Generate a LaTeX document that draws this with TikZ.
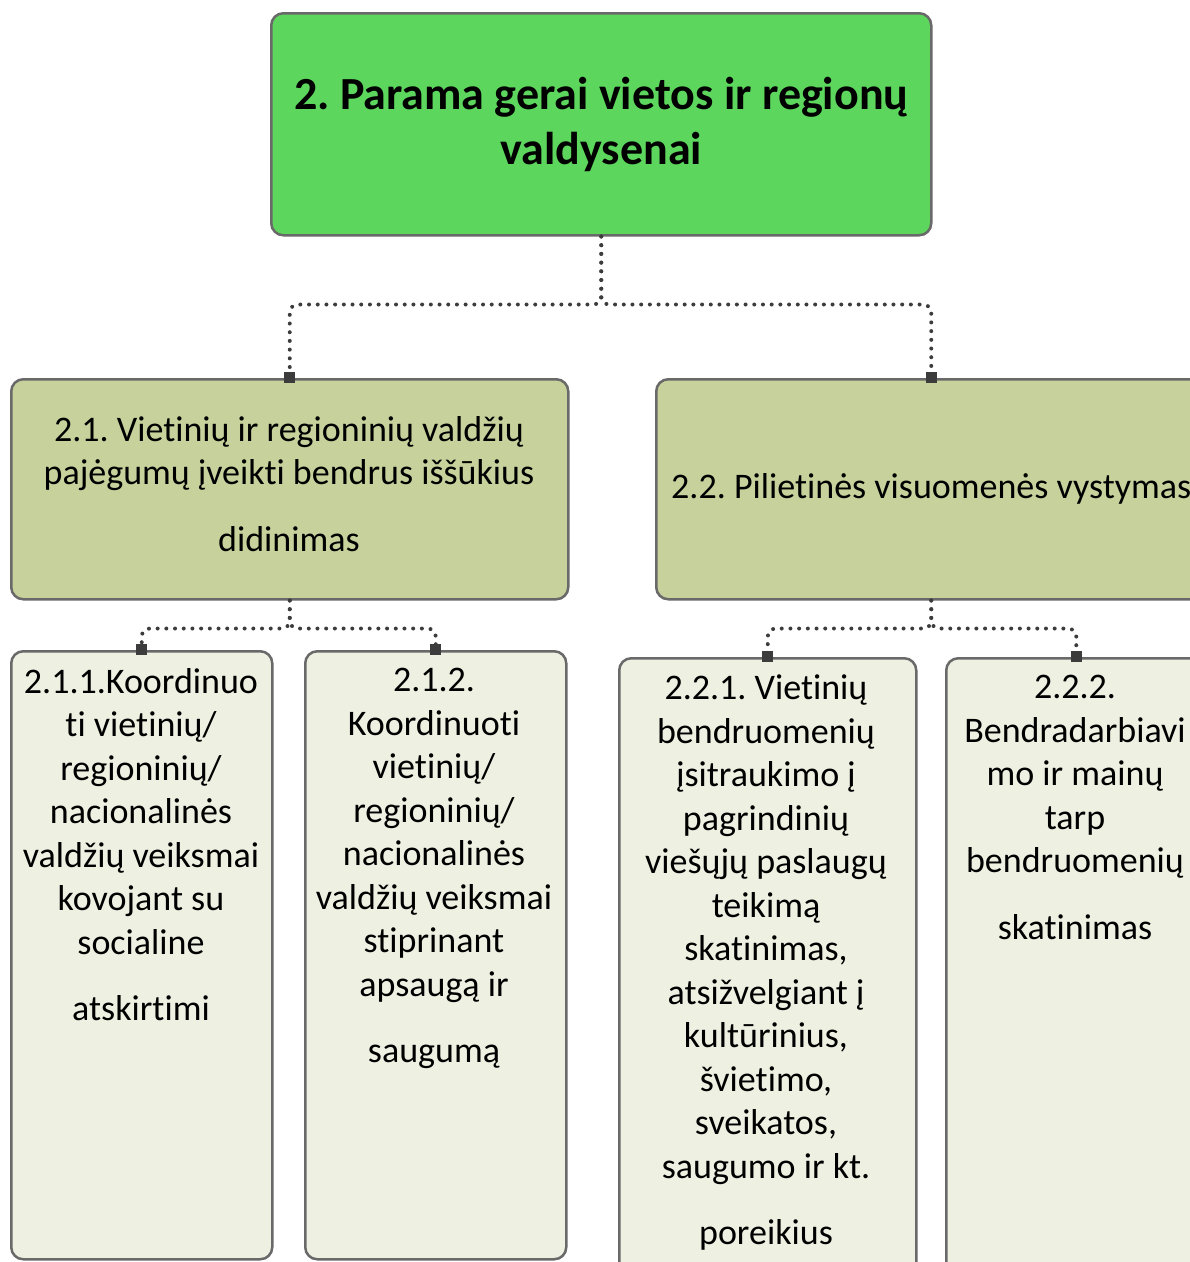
\documentclass[tikz,border=0pt]{standalone}
\usepackage{fontspec}
\setmainfont{Carlito}[Ligatures=NoCommon]
\usetikzlibrary{arrows.meta}
\frenchspacing

\definecolor{topgreen}{RGB}{92,214,92}
\definecolor{midgreen}{RGB}{198,209,156}
\definecolor{lowgreen}{RGB}{238,241,226}
\definecolor{edgegray}{RGB}{105,105,105}
\definecolor{dotgray}{RGB}{60,60,60}

\tikzset{
	box/.style={draw=edgegray, line width=2.5pt, rounded corners=12pt, anchor=north west, inner sep=0pt},
	link/.style={draw=dotgray, line width=4pt, line cap=round, dash pattern=on 0pt off 8.7pt,
		rounded corners=8pt, -{Square[length=11pt,width=11pt]}, shorten >=-5pt},
	txt/.style={align=center, inner sep=0pt, font=\fontsize{36}{43.5}\selectfont},
}

\begin{document}
\begin{tikzpicture}[x=1pt, y=-1pt]

	\useasboundingbox (0,0) rectangle (1190,1262);
	\clip (0,0) rectangle (1190,1262);

	% boxes
	\node[box, fill=topgreen, minimum width=660pt, minimum height=222pt] (goal) at (270,12) {};
	\node[box, fill=midgreen, minimum width=557pt, minimum height=220pt] (b21) at (10,378) {};
	\node[box, fill=midgreen, minimum width=550pt, minimum height=220pt] (b22) at (655,378) {};
	\node[box, fill=lowgreen, minimum width=261pt, minimum height=608pt] (b211) at (10,650) {};
	\node[box, fill=lowgreen, minimum width=261pt, minimum height=608pt] (b212) at (304,650) {};
	\node[box, fill=lowgreen, minimum width=297pt, minimum height=620pt] (b221) at (618,657) {};
	\node[box, fill=lowgreen, minimum width=260pt, minimum height=620pt] (b222) at (945,657) {};

	% texts
	\node[align=center, inner sep=0pt, font=\fontsize{46}{55}\selectfont\bfseries] (goaltxt) at (goal.center)
		{2. Parama gerai vietos ir regionų\\valdysenai};
	\node[txt] (b21txt) at (289,484)
		{2.1. Vietinių ir regioninių valdžių\\pajėgumų įveikti bendrus iššūkius\\[23pt]didinimas};
	\node[txt] (b22txt) at (b22.center) {2.2. Pilietinės visuomenės vystymas};
	\node[txt, anchor=north] (b211txt) at (141,668)
		{2.1.1.Koordinuo\\ti vietinių/\\regioninių/\\nacionalinės\\valdžių veiksmai\\kovojant su\\socialine\\[23pt]atskirtimi};
	\node[txt, anchor=north] (b212txt) at (434,668)
		{2.1.2.\\Koordinuoti\\vietinių/\\regioninių/\\nacionalinės\\valdžių veiksmai\\stiprinant\\apsaugą ir\\[23pt]saugumą};
	\node[txt, anchor=north] (b221txt) at (766,675)
		{2.2.1. Vietinių\\bendruomenių\\įsitraukimo į\\pagrindinių\\viešųjų paslaugų\\teikimą\\skatinimas,\\atsižvelgiant į\\kultūrinius,\\švietimo,\\sveikatos,\\saugumo ir kt.\\[23pt]poreikius};
	\node[txt, anchor=north] (b222txt) at (1075,675)
		{2.2.2.\\Bendradarbiavi\\mo ir mainų\\tarp\\bendruomenių\\[23pt]skatinimas};

	% links
	\draw[link] (goal.south) -- ++(0,68) -| (b21.north);
	\draw[link] (goal.south) -- ++(0,68) -| (b22.north);
	\draw[link] (b21.south) -- ++(0,28) -| (b211.north);
	\draw[link] (b21.south) -- ++(0,28) -| (b212.north);
	\draw[link] (b22.south) -- ++(0,28) -| (b221.north);
	\draw[link] (b22.south) -- ++(0,28) -| (b222.north);

\end{tikzpicture}
\end{document}
